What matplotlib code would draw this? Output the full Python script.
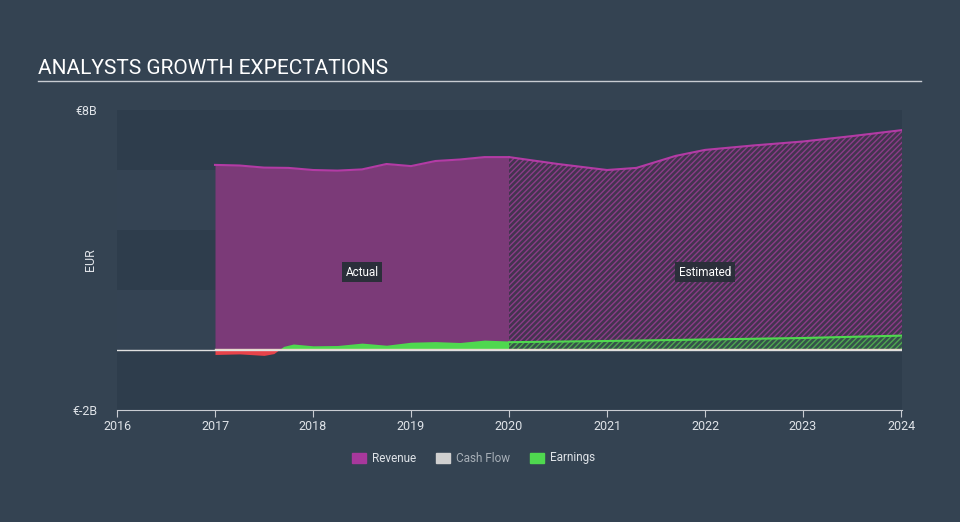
import matplotlib.pyplot as plt
import matplotlib as mpl

# Data (EUR billions)
rev_actual_x = [2017.0, 2017.25, 2017.5, 2017.75, 2018.0, 2018.25, 2018.5, 2018.75, 2019.0, 2019.25, 2019.5, 2019.75, 2020.0]
rev_actual_y = [6.17, 6.15, 6.08, 6.07, 6.0, 5.98, 6.02, 6.2, 6.13, 6.3, 6.35, 6.43, 6.43]
rev_est_x = [2020.0, 2020.5, 2021.0, 2021.3, 2021.7, 2022.0, 2022.5, 2023.0, 2023.5, 2024.01]
rev_est_y = [6.43, 6.2, 6.0, 6.07, 6.47, 6.67, 6.82, 6.95, 7.13, 7.33]

earn_actual_x = [2017.0, 2017.25, 2017.5, 2017.6, 2017.7, 2017.8, 2018.0, 2018.25, 2018.5, 2018.75, 2019.0, 2019.25, 2019.5, 2019.75, 2020.0]
earn_actual_y = [-0.15, -0.13, -0.18, -0.12, 0.12, 0.2, 0.14, 0.15, 0.23, 0.16, 0.26, 0.28, 0.25, 0.33, 0.3]
earn_est_x = [2020.0, 2021.0, 2022.0, 2023.0, 2024.01]
earn_est_y = [0.26, 0.3, 0.35, 0.4, 0.48]

cash_x = [2017.0, 2020.0, 2024.01]
cash_y = [0.02, 0.02, 0.02]

years = [2016, 2017, 2018, 2019, 2020, 2021, 2022, 2023, 2024]

bg = "#344352"
ax_bg = "#2e3d4c"
purple_fill = "#7b3a78"
purple_line = "#b33ba5"
green = "#4fd84f"
red = "#e8434a"
txt = "#dfe3e8"

mpl.rcParams["hatch.linewidth"] = 1.0
plt.rcParams["font.family"] = ["Roboto", "DejaVu Sans"]

fig = plt.figure(figsize=(9.6, 5.22), dpi=100, facecolor=bg)
ax = fig.add_axes([117 / 960, 1 - 410 / 522, (902 - 117) / 960, 300 / 522])
ax.set_facecolor(ax_bg)
ax.set_xlim(2016, 2024.01)
ax.set_ylim(-2, 8)

# subtle horizontal bands
for i, lo in enumerate(range(-2, 8, 2)):
    if i % 2 == 1:
        ax.axhspan(lo, lo + 2, color="#344353", lw=0, zorder=0)

# revenue
ax.fill_between(rev_actual_x, 0, rev_actual_y, color=purple_fill, lw=0, zorder=1)
ax.plot(rev_actual_x, rev_actual_y, color=purple_line, lw=1.5, zorder=3)
ax.fill_between(rev_est_x, 0, rev_est_y, facecolor="#43344f", edgecolor="#8b3c88",
                hatch="//////", lw=0, zorder=1)
ax.plot(rev_est_x, rev_est_y, color=purple_line, lw=1.5, zorder=3)

# earnings
ax.fill_between(earn_actual_x, 0, earn_actual_y, where=[v >= 0 or i > 3 for i, v in enumerate(earn_actual_y)],
                interpolate=True, color=green, lw=0, zorder=2)
ax.fill_between(earn_actual_x[:5], 0, earn_actual_y[:5], where=[v <= 0 for v in earn_actual_y[:5]],
                interpolate=True, color=red, lw=0, zorder=2)
ax.fill_between(earn_est_x, 0, earn_est_y, facecolor="#35524a", edgecolor="#4fa850",
                hatch="//////", lw=0, zorder=2)
ax.plot(earn_est_x, earn_est_y, color=green, lw=1.5, zorder=3)

# cash flow
ax.plot(cash_x, cash_y, color="#e8d8c8", lw=1, zorder=3)

# zero line
ax.axhline(0, color="#e0e0e0", lw=1, zorder=4)

# labels
ax.text(2018.5, 2.6, "Actual", color="white", fontsize=8.5, ha="center", va="center",
        bbox=dict(boxstyle="square,pad=0.3", fc="#2b2f3a", ec="none"), zorder=5)
ax.text(2022.0, 2.6, "Estimated", color="white", fontsize=8.5, ha="center", va="center",
        bbox=dict(boxstyle="square,pad=0.3", fc="#2b2f3a", ec="none"), zorder=5)

# axes styling
for s in ["top", "right", "left"]:
    ax.spines[s].set_visible(False)
ax.spines["bottom"].set_color("#c8ccd2")
ax.set_xticks(years)
ax.set_xticklabels([str(y) for y in years], color=txt, fontsize=9)
ax.tick_params(axis="x", colors="#c8ccd2", length=5, labelcolor=txt, pad=2)
ax.set_yticks([8, -2])
ax.set_yticklabels(["€8B", "€-2B"], color=txt, fontsize=9)
ax.tick_params(axis="y", length=0, pad=14)
ax.set_ylabel("EUR", color=txt, fontsize=9)
ax.yaxis.set_label_coords(-20 / 785, 0.5)

# title
fig.text(38 / 960, 1 - 68 / 522, "ANALYSTS GROWTH EXPECTATIONS", color="white", fontsize=15, va="center")
fig.add_artist(plt.Line2D([38 / 960, 921 / 960], [1 - 81 / 522] * 2, color="#c8ccd2", lw=1))

# legend
items = [("Revenue", "#a8389c", txt), ("Cash Flow", "#d0d0d0", "#a8b0b8"), ("Earnings", green, txt)]
xs = [352, 436, 530]
for (label, c, tc), x in zip(items, xs):
    fig.patches.append(mpl.patches.Rectangle((x / 960, 1 - 463 / 522), 14 / 960, 10 / 522,
                                             transform=fig.transFigure, color=c))
    fig.text((x + 20) / 960, 1 - 458 / 522, label, color=tc, fontsize=8.5, va="center")

fig.savefig("out.png", dpi=100, facecolor=bg)
